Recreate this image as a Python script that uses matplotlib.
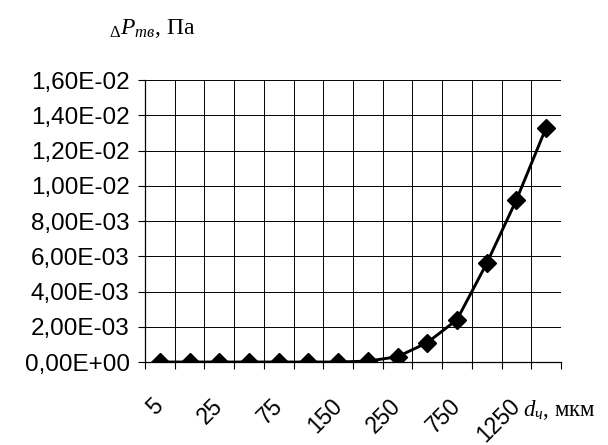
import numpy as np
import matplotlib
matplotlib.use('Agg')
import matplotlib.pyplot as plt
from matplotlib.ticker import FixedLocator, FuncFormatter
from matplotlib.transforms import ScaledTranslation

# Category labels along the x axis (only every other one is printed on the chart)
d_labels = ['5', '', '25', '', '75', '', '150', '', '250', '', '750', '', '1250', '']
# Pressure drop, Pa
dp_values = [0.0, 0.0, 0.0, 0.0, 0.0, 0.0, 0.0, 0.00005, 0.0003, 0.0011, 0.0024, 0.0056, 0.0092, 0.0133]
y_ticks = [0.0, 0.002, 0.004, 0.006, 0.008, 0.010, 0.012, 0.014, 0.016]

plt.rcParams['mathtext.fontset'] = 'custom'
plt.rcParams['mathtext.rm'] = 'Liberation Serif'
plt.rcParams['mathtext.it'] = 'Liberation Serif:italic'

fig = plt.figure(figsize=(6.08, 4.45), dpi=100)
ax = fig.add_axes([0.2385, 0.1865, 0.6842, 0.6337])

x = np.arange(len(dp_values))
ax.plot(x, dp_values, color='black', lw=2.1, marker='D', markersize=9.5,
        markerfacecolor='black', markeredgecolor='black', zorder=3)

ax.set_xlim(-0.5, len(dp_values) - 0.5)
ax.set_ylim(0, 0.016)

# y axis
ax.set_yticks(y_ticks)
ax.yaxis.set_major_formatter(FuncFormatter(lambda v, pos: f'{v:.2E}'.replace('.', ',')))
ax.tick_params(axis='y', direction='out', length=5, width=0.8, color='black', pad=6,
               labelsize=17.5)

# x axis: labels at category centres, tick marks and grid at the boundaries
ax.set_xticks(x)
ax.set_xticklabels(d_labels, rotation=45, ha='right', rotation_mode='anchor')
ax.tick_params(axis='x', which='major', length=0, pad=23, labelsize=16.5)
ax.xaxis.set_minor_locator(FixedLocator(np.arange(len(dp_values) + 1) - 0.5))
ax.tick_params(axis='x', which='minor', direction='out', length=5, width=0.8, color='black')

shift = ScaledTranslation(-8 / 100, 0, fig.dpi_scale_trans)
for lab in ax.get_xticklabels():
    lab.set_transform(lab.get_transform() + shift)
for lab in ax.get_xticklabels() + ax.get_yticklabels():
    lab.set_fontfamily('Liberation Sans')

ax.grid(True, axis='y', which='major', color='black', lw=0.7)
ax.grid(True, axis='x', which='minor', color='black', lw=0.7)
ax.set_axisbelow(True)

for side in ['top', 'right']:
    ax.spines[side].set_visible(False)
for side in ['left', 'bottom']:
    ax.spines[side].set_linewidth(0.9)

fig.text(0.18, 0.935, r'${}_{\Delta}P_{тв}$, Па', fontsize=17, family='Liberation Serif',
         ha='left', va='center')
fig.text(0.86, 0.078, r'$d_{ч}$, мкм', fontsize=16.5, family='Liberation Serif',
         ha='left', va='center')

fig.savefig('out.png', dpi=100, facecolor='white')
